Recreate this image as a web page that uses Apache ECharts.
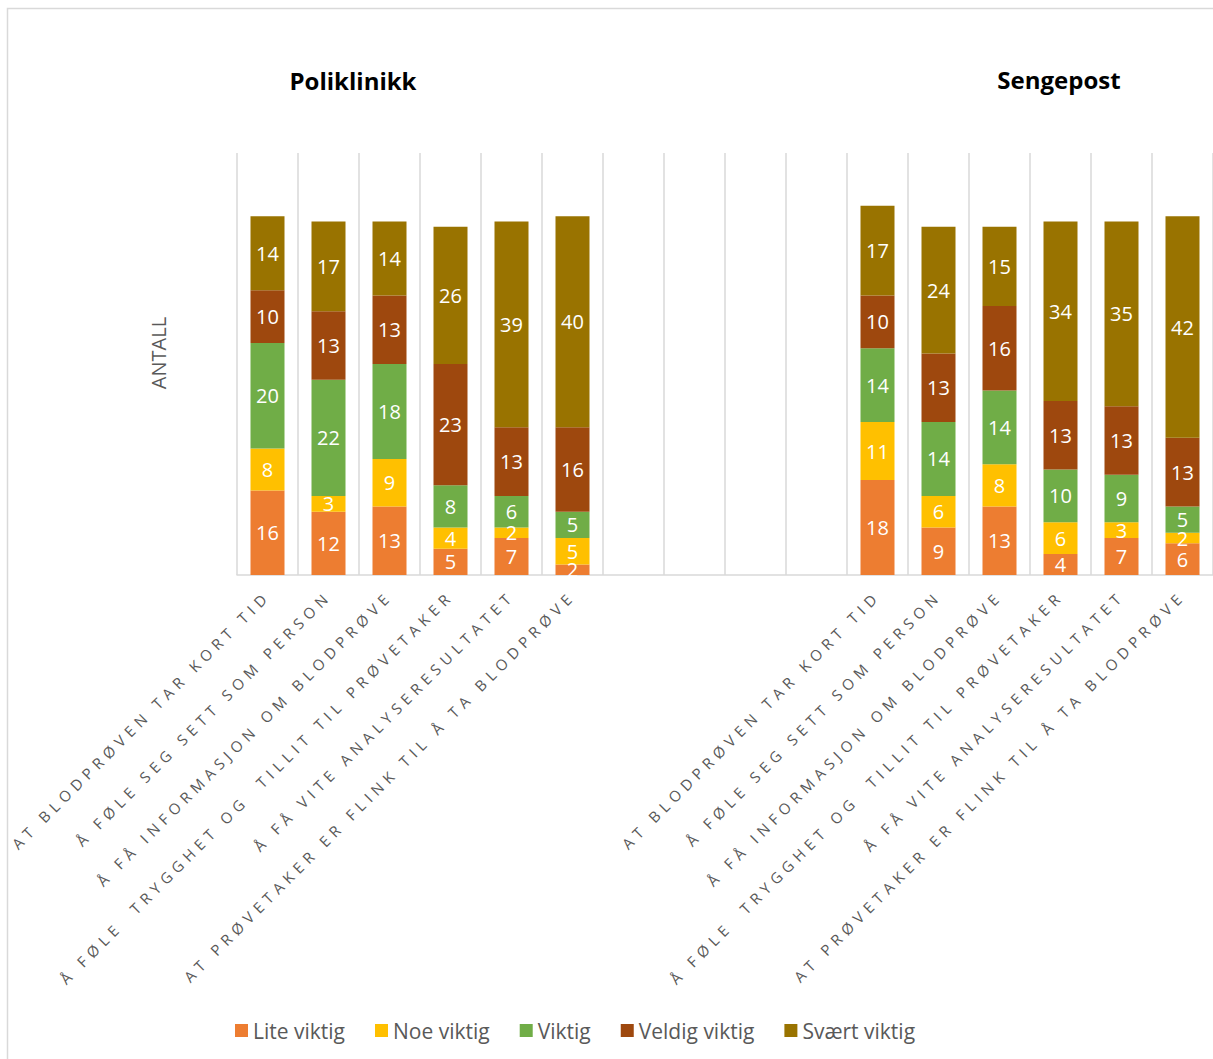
<!DOCTYPE html>
<html>
<head>
<meta charset="utf-8">
<title>Poliklinikk / Sengepost</title>
<script src="https://cdn.jsdelivr.net/npm/echarts@6/dist/echarts.min.js"></script>
<style>
  html, body { margin: 0; padding: 0; background: #ffffff; }
  #chart { width: 1213px; height: 1059px; }
</style>
</head>
<body>
<div id="chart"></div>
<script>
// Questions asked (same six in each unit), with four empty slots between the two groups
const questions = [
  'AT BLODPRØVEN TAR KORT TID',
  'Å FØLE SEG SETT SOM PERSON',
  'Å FÅ INFORMASJON OM BLODPRØVE',
  'Å FØLE  TRYGGHET OG  TILLIT TIL PRØVETAKER',
  'Å FÅ VITE ANALYSERESULTATET',
  'AT PRØVETAKER ER FLINK TIL Å TA BLODPRØVE'
];
const gap = ['', '', '', ''];
const categories = questions.concat(gap, questions);

const seriesNames = ['Lite viktig', 'Noe viktig', 'Viktig', 'Veldig viktig', 'Svært viktig'];

// Poliklinikk counts per answer
const poliLite   = [16, 12, 13, 5, 7, 2];
const poliNoe    = [8, 3, 9, 4, 2, 5];
const poliViktig = [20, 22, 18, 8, 6, 5];
const poliVeldig = [10, 13, 13, 23, 13, 16];
const poliSvaert = [14, 17, 14, 26, 39, 40];

// Sengepost counts per answer
const sengLite   = [18, 9, 13, 4, 7, 6];
const sengNoe    = [11, 6, 8, 6, 3, 2];
const sengViktig = [14, 14, 14, 10, 9, 5];
const sengVeldig = [10, 13, 16, 13, 13, 13];
const sengSvaert = [17, 24, 15, 34, 35, 42];

const colors = ['#ED7D31', '#FFC000', '#70AD47', '#9E480E', '#997300'];

const empty = [null, null, null, null];
const joined = (a, b) => a.concat(empty, b);
const values = [
  joined(poliLite, sengLite),
  joined(poliNoe, sengNoe),
  joined(poliViktig, sengViktig),
  joined(poliVeldig, sengVeldig),
  joined(poliSvaert, sengSvaert)
];

const chart = echarts.init(document.getElementById('chart'), null, { renderer: 'svg' });

chart.setOption({
  animation: false,
  color: colors,
  textStyle: { fontFamily: 'Open Sans' },
  title: [
    { text: 'Poliklinikk', left: 348, top: 63, textAlign: 'center',
      textStyle: { fontSize: 24, fontWeight: 'bold', color: '#000', fontFamily: 'Open Sans' } },
    { text: 'Sengepost', left: 1054, top: 62, textAlign: 'center',
      textStyle: { fontSize: 24, fontWeight: 'bold', color: '#000', fontFamily: 'Open Sans' } }
  ],
  graphic: [
    { type: 'rect', shape: { x: 7.5, y: 8.5, width: 1240, height: 1080 },
      style: { fill: 'none', stroke: '#d9d9d9', lineWidth: 1.5 }, silent: true },
    { type: 'text', x: 158, y: 353, rotation: Math.PI / 2, silent: true,
      style: { text: 'ANTALL', align: 'center', verticalAlign: 'middle',
               fontSize: 20, fill: '#595959', fontFamily: 'Open Sans' } }
  ],
  legend: {
    data: seriesNames,
    left: 230,
    bottom: 13,
    icon: 'rect',
    itemWidth: 13,
    itemHeight: 13,
    itemGap: 30,
    textStyle: { fontSize: 21, color: '#595959', fontFamily: 'Open Sans' }
  },
  grid: { left: 237, top: 153, width: 984, height: 422, containLabel: false },
  xAxis: {
    type: 'category',
    data: categories,
    boundaryGap: true,
    axisLine: { show: true, lineStyle: { color: '#d9d9d9', width: 1.5 } },
    axisTick: { show: false },
    splitLine: { show: true, lineStyle: { color: '#d9d9d9', width: 1.5 } },
    axisLabel: {
      interval: 0,
      rotate: 45,
      margin: 18,
      fontSize: 15,
      color: '#595959',
      fontFamily: 'Open Sans'
    }
  },
  yAxis: {
    type: 'value',
    min: 0,
    max: 80,
    interval: 10,
    axisLine: { show: false },
    axisTick: { show: false },
    axisLabel: { show: false },
    splitLine: { show: false }
  },
  series: seriesNames.map((name, i) => ({
    name: name,
    type: 'bar',
    stack: 'total',
    barWidth: 34,
    data: values[i],
    itemStyle: { color: colors[i] },
    label: {
      show: true,
      position: 'inside',
      color: '#ffffff',
      fontSize: 20,
      fontFamily: 'Open Sans'
    }
  }))
});

// The question labels are set in widely tracked capitals
function trackCategoryLabels() {
  document.querySelectorAll('#chart svg text').forEach(function (t) {
    if (questions.indexOf(t.textContent) !== -1) {
      t.style.letterSpacing = '5.3px';
      t.style.whiteSpace = 'pre';
    }
  });
}
trackCategoryLabels();
chart.on('finished', trackCategoryLabels);
</script>
</body>
</html>
